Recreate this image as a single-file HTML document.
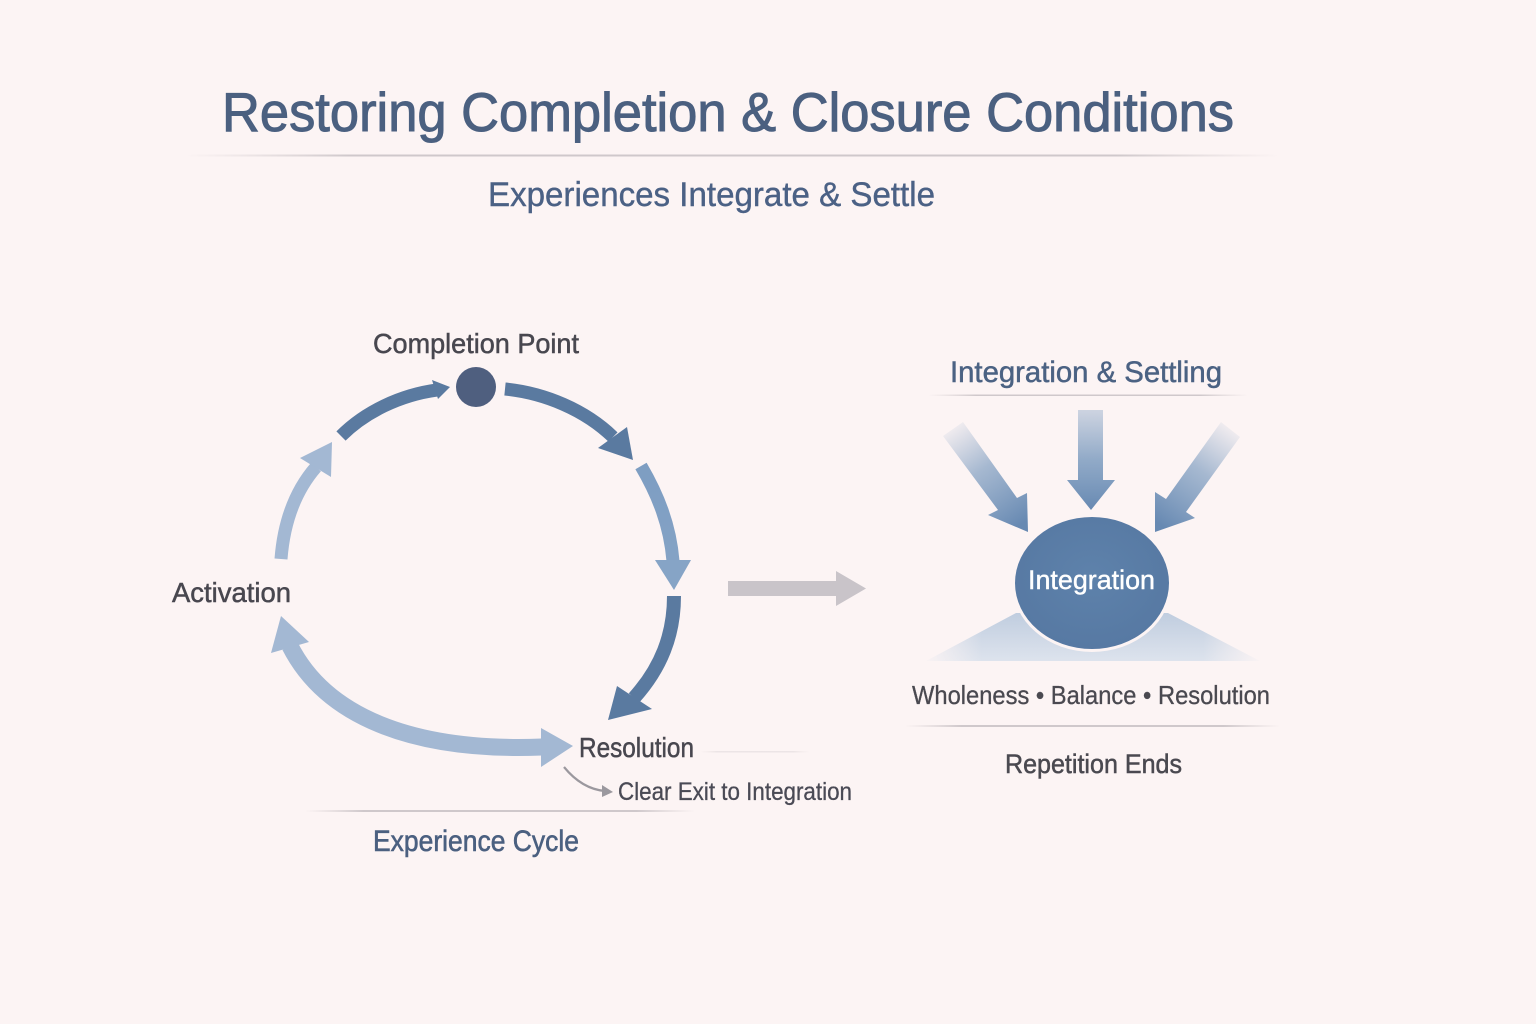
<!DOCTYPE html>
<html>
<head>
<meta charset="utf-8">
<style>
  html,body{margin:0;padding:0;background:#fcf4f4;}
  svg{display:block;}
  text{font-family:"Liberation Sans", sans-serif;}
</style>
</head>
<body>
<svg width="1536" height="1024" viewBox="0 0 1536 1024" xmlns="http://www.w3.org/2000/svg">
  <defs>
    <linearGradient id="hline" x1="0" y1="0" x2="1" y2="0">
      <stop offset="0" stop-color="#d8d0d2" stop-opacity="0"/>
      <stop offset="0.15" stop-color="#cfc8cb" stop-opacity="1"/>
      <stop offset="0.85" stop-color="#cfc8cb" stop-opacity="1"/>
      <stop offset="1" stop-color="#d8d0d2" stop-opacity="0"/>
    </linearGradient>
    <linearGradient id="gL" gradientUnits="userSpaceOnUse" x1="950" y1="425" x2="1020" y2="525">
      <stop offset="0" stop-color="#7d9cc0" stop-opacity="0.05"/>
      <stop offset="0.45" stop-color="#7798bd" stop-opacity="0.65"/>
      <stop offset="1" stop-color="#6789b2"/>
    </linearGradient>
    <linearGradient id="gC" gradientUnits="userSpaceOnUse" x1="0" y1="408" x2="0" y2="510">
      <stop offset="0" stop-color="#7d9cc0" stop-opacity="0.35"/>
      <stop offset="0.5" stop-color="#7798bd" stop-opacity="0.8"/>
      <stop offset="1" stop-color="#6789b2"/>
    </linearGradient>
    <linearGradient id="gR" gradientUnits="userSpaceOnUse" x1="1232" y1="425" x2="1160" y2="525">
      <stop offset="0" stop-color="#7d9cc0" stop-opacity="0.05"/>
      <stop offset="0.45" stop-color="#7798bd" stop-opacity="0.65"/>
      <stop offset="1" stop-color="#6789b2"/>
    </linearGradient>
    <linearGradient id="mound" x1="0" y1="0" x2="0" y2="1">
      <stop offset="0" stop-color="#c0cddf"/>
      <stop offset="1" stop-color="#dde3ed"/>
    </linearGradient>
    <linearGradient id="moundFade" x1="0" y1="0" x2="1" y2="0">
      <stop offset="0" stop-color="#fcf4f4" stop-opacity="1"/>
      <stop offset="0.18" stop-color="#fcf4f4" stop-opacity="0"/>
      <stop offset="0.82" stop-color="#fcf4f4" stop-opacity="0"/>
      <stop offset="1" stop-color="#fcf4f4" stop-opacity="1"/>
    </linearGradient>
    <radialGradient id="ell" cx="0.5" cy="0.45" r="0.6">
      <stop offset="0" stop-color="#5e82ab"/>
      <stop offset="1" stop-color="#5678a2"/>
    </radialGradient>
    <linearGradient id="rightArc" gradientUnits="userSpaceOnUse" x1="0" y1="460" x2="0" y2="590">
      <stop offset="0" stop-color="#7d9dc2"/>
      <stop offset="1" stop-color="#86a4c6"/>
    </linearGradient>
  </defs>

  <rect width="1536" height="1024" fill="#fcf4f4"/>

  <!-- Title -->
  <text x="222" y="131" font-size="55" fill="#4b6080" stroke="#4b6080" stroke-width="1" textLength="1012" lengthAdjust="spacingAndGlyphs">Restoring Completion &amp; Closure Conditions</text>
  <rect x="185" y="154.5" width="1095" height="2" fill="url(#hline)"/>
  <text x="488" y="206" font-size="34" fill="#4b6185" stroke="#4b6185" stroke-width="0.4" textLength="447" lengthAdjust="spacingAndGlyphs">Experiences Integrate &amp; Settle</text>

  <!-- Cycle labels -->
  <text x="373" y="353" font-size="28" fill="#48474f" stroke="#48474f" stroke-width="0.5" textLength="206" lengthAdjust="spacingAndGlyphs">Completion Point</text>
  <text x="172" y="602" font-size="28" fill="#48474f" stroke="#48474f" stroke-width="0.5" textLength="119" lengthAdjust="spacingAndGlyphs">Activation</text>
  <text x="579" y="757" font-size="28" fill="#48474f" stroke="#48474f" stroke-width="0.5" textLength="115" lengthAdjust="spacingAndGlyphs">Resolution</text>
  <rect x="700" y="751" width="110" height="1.5" fill="url(#hline)" opacity="0.35"/>
  <text x="618" y="800" font-size="25" fill="#4a4a55" stroke="#4a4a55" stroke-width="0.3" textLength="234" lengthAdjust="spacingAndGlyphs">Clear Exit to Integration</text>
  <rect x="305" y="810" width="390" height="2" fill="url(#hline)"/>
  <text x="373" y="851" font-size="30" fill="#4b6080" stroke="#4b6080" stroke-width="0.6" textLength="206" lengthAdjust="spacingAndGlyphs">Experience Cycle</text>

  <!-- Completion dot -->
  <circle cx="476" cy="387" r="20" fill="#4f5f7f"/>

  <!-- Top-left dark arc -->
  <path d="M 341 436 C 365 412, 400 395, 437 390" fill="none" stroke="#5a7aa0" stroke-width="13"/>
  <polygon points="432,380 450,387 438,399" fill="#5a7aa0"/>

  <!-- Top-right dark arc -->
  <path d="M 505 389 C 545 393, 585 410, 613 437" fill="none" stroke="#5a7aa0" stroke-width="13"/>
  <polygon points="598,448 627,427 633,460" fill="#5a7aa0"/>

  <!-- Right medium arc -->
  <path d="M 641 466 C 658 495, 670 525, 673 561" fill="none" stroke="url(#rightArc)" stroke-width="13"/>
  <polygon points="655,560 691,560 674,590" fill="#86a4c6"/>

  <!-- Lower right dark arc -->
  <path d="M 674 596 C 674 635, 661 668, 634 698" fill="none" stroke="#5a7aa0" stroke-width="14"/>
  <polygon points="617,686 652,709 608,720" fill="#5a7aa0"/>

  <!-- Left light arc -->
  <path d="M 281 559 C 284 520, 296 490, 316 467" fill="none" stroke="#a3b8d3" stroke-width="13"/>
  <polygon points="300,458 332,442 331,477" fill="#a3b8d3"/>

  <!-- Bottom big light double arrow -->
  <path d="M 290 646 C 325 715, 410 752, 542 747" fill="none" stroke="#a3b8d3" stroke-width="17"/>
  <polygon points="271,653 281,616 309,642" fill="#a3b8d3"/>
  <polygon points="541,728 573,746 541,767" fill="#a3b8d3"/>

  <!-- small gray exit arrow -->
  <path d="M 564 767 Q 582 789, 605 791" fill="none" stroke="#9b989e" stroke-width="2.2"/>
  <polygon points="602,785 613,792 602,797" fill="#9b989e"/>

  <!-- Gray transition arrow -->
  <rect x="728" y="581" width="109" height="15" fill="#c9c4c9"/>
  <polygon points="836,571 866,588.5 836,606" fill="#c9c4c9"/>

  <!-- Right section -->
  <text x="950" y="382" font-size="30" fill="#4b6283" stroke="#4b6283" stroke-width="0.5" textLength="272" lengthAdjust="spacingAndGlyphs">Integration &amp; Settling</text>
  <rect x="928" y="394.5" width="320" height="1.5" fill="url(#hline)"/>

  <!-- converging arrows -->
  <polygon points="943,436 963,422 1017,498 1027,493 1028,532 988,515 998,510" fill="url(#gL)"/>
  <polygon points="1078,410 1103,410 1103,480 1115,480 1091,510 1067,480 1078,480" fill="url(#gC)"/>
  <polygon points="1221,422 1240,437 1186,512 1195,518 1155,532 1155,492 1166,499" fill="url(#gR)"/>

  <!-- mound -->
  <polygon points="926,661 1016,613 1168,613 1260,661" fill="url(#mound)"/>
  <rect x="920" y="600" width="345" height="64" fill="url(#moundFade)"/>

  <!-- Integration ellipse -->
  <ellipse cx="1092" cy="583" rx="80" ry="69" fill="#fcf4f4"/>
  <ellipse cx="1092" cy="583" rx="77" ry="66" fill="url(#ell)"/>
  <text x="1028" y="589" font-size="27" fill="#ffffff" stroke="#ffffff" stroke-width="0.4" textLength="127" lengthAdjust="spacingAndGlyphs">Integration</text>

  <text x="912" y="704" font-size="26" fill="#4a4950" stroke="#4a4950" stroke-width="0.3" textLength="358" lengthAdjust="spacingAndGlyphs">Wholeness • Balance • Resolution</text>
  <rect x="905" y="725" width="375" height="2" fill="url(#hline)"/>
  <text x="1005" y="773" font-size="27" fill="#4a4950" stroke="#4a4950" stroke-width="0.5" textLength="177" lengthAdjust="spacingAndGlyphs">Repetition Ends</text>
</svg>
</body>
</html>
